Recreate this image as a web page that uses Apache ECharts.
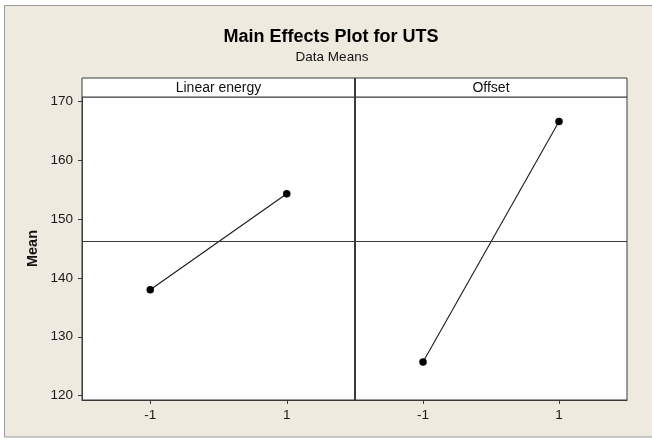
<!DOCTYPE html>
<html>
<head>
<meta charset="utf-8">
<script src="https://cdn.jsdelivr.net/npm/echarts@6/dist/echarts.min.js"></script>
<style>
html,body{margin:0;padding:0;background:#ffffff;}
#chart{width:652px;height:439px;}
</style>
</head>
<body>
<div id="chart"></div>
<script>
// ---- data ----
var levels = ['-1', '1'];
var panelNames = ['Linear energy', 'Offset'];
var linearEnergyMeans = [138.0, 154.3];
var offsetMeans = [125.7, 166.6];
var grandMean = 146.15;
var yTicks = [120, 130, 140, 150, 160, 170];
var titleText = 'Main Effects Plot for UTS';
var subtitleText = 'Data Means';
var yAxisName = 'Mean';

// ---- layout / style ----
var FONT = 'Liberation Sans';
var frameColor = '#3a3a3a';
var panelTop = 97, panelH = 303;
var p0Left = 82, p0W = 273, p1Left = 355, p1W = 272;
var headerTop = 78;

var chart = echarts.init(document.getElementById('chart'), null, {renderer: 'canvas'});

function xAxisFor(gi) {
  return {
    type: 'category', gridIndex: gi, data: levels, boundaryGap: true,
    axisLine: {show: true, lineStyle: {color: frameColor, width: 1}},
    axisTick: {show: true, alignWithLabel: true, length: 4, lineStyle: {color: frameColor}},
    axisLabel: {show: true, margin: 8, color: '#1a1a1a', fontFamily: FONT, fontSize: 13.5},
    splitLine: {show: false}
  };
}
function yAxisFor(gi, show) {
  return {
    type: 'value', gridIndex: gi, min: 119.25, max: 170.75, show: show,
    name: show ? yAxisName : '',
    nameLocation: 'middle', nameGap: 42, nameRotate: 90,
    nameTextStyle: {fontFamily: FONT, fontSize: 14.5, fontWeight: 'bold', color: '#111'},
    axisLine: {show: true, lineStyle: {color: frameColor, width: 1}},
    axisTick: {show: true, length: 4, customValues: yTicks, lineStyle: {color: frameColor}},
    axisLabel: {show: true, margin: 9, customValues: yTicks, color: '#1a1a1a', fontFamily: FONT, fontSize: 13.5},
    splitLine: {show: false}
  };
}
function meanLine() {
  return {
    silent: true, symbol: 'none', label: {show: false},
    lineStyle: {color: '#3a3a3a', width: 1.2, type: 'solid'},
    data: [{yAxis: grandMean}]
  };
}
function lineSeries(gi, data) {
  return {
    type: 'line', xAxisIndex: gi, yAxisIndex: gi, data: data,
    symbol: 'circle', symbolSize: 7.5, animation: false,
    itemStyle: {color: '#000'},
    lineStyle: {color: '#1a1a1a', width: 1.1},
    markLine: meanLine(), z: 3
  };
}

var option = {
  animation: false,
  backgroundColor: '#ffffff',
  grid: [
    {left: p0Left, top: panelTop, width: p0W, height: panelH, show: true, backgroundColor: '#fff', borderColor: frameColor, borderWidth: 1},
    {left: p1Left, top: panelTop, width: p1W, height: panelH, show: true, backgroundColor: '#fff', borderColor: frameColor, borderWidth: 1}
  ],
  xAxis: [xAxisFor(0), xAxisFor(1)],
  yAxis: [yAxisFor(0, true), yAxisFor(1, false)],
  series: [lineSeries(0, linearEnergyMeans), lineSeries(1, offsetMeans)],
  graphic: [
    {type: 'rect', z: -10, silent: true, shape: {x: 4.5, y: 5.5, width: 660, height: 431.5},
     style: {fill: '#EEEAE0', stroke: '#9a9a9a', lineWidth: 1}},
    {type: 'rect', z: 10, silent: true, shape: {x: p0Left, y: headerTop, width: p0W + p1W, height: panelTop - headerTop},
     style: {fill: '#ffffff', stroke: frameColor, lineWidth: 1}},
    {type: 'line', z: 11, silent: true, shape: {x1: p1Left, y1: headerTop, x2: p1Left, y2: panelTop + panelH},
     style: {stroke: frameColor, lineWidth: 2}},
    {type: 'text', z: 12, silent: true, x: p0Left + p0W / 2, y: (headerTop + panelTop) / 2 + 0.5,
     style: {text: panelNames[0], fontFamily: FONT, fontSize: 14, fill: '#111', align: 'center', verticalAlign: 'middle'}},
    {type: 'text', z: 12, silent: true, x: p1Left + p1W / 2, y: (headerTop + panelTop) / 2 + 0.5,
     style: {text: panelNames[1], fontFamily: FONT, fontSize: 14, fill: '#111', align: 'center', verticalAlign: 'middle'}},
    {type: 'text', z: 12, silent: true, x: 331, y: 37.5,
     style: {text: titleText, fontFamily: FONT, fontSize: 18, fontWeight: 'bold', fill: '#000', align: 'center', verticalAlign: 'middle'}},
    {type: 'text', z: 12, silent: true, x: 332, y: 57.5,
     style: {text: subtitleText, fontFamily: FONT, fontSize: 13.5, fill: '#111', align: 'center', verticalAlign: 'middle'}}
  ]
};
chart.setOption(option);
</script>
</body>
</html>
